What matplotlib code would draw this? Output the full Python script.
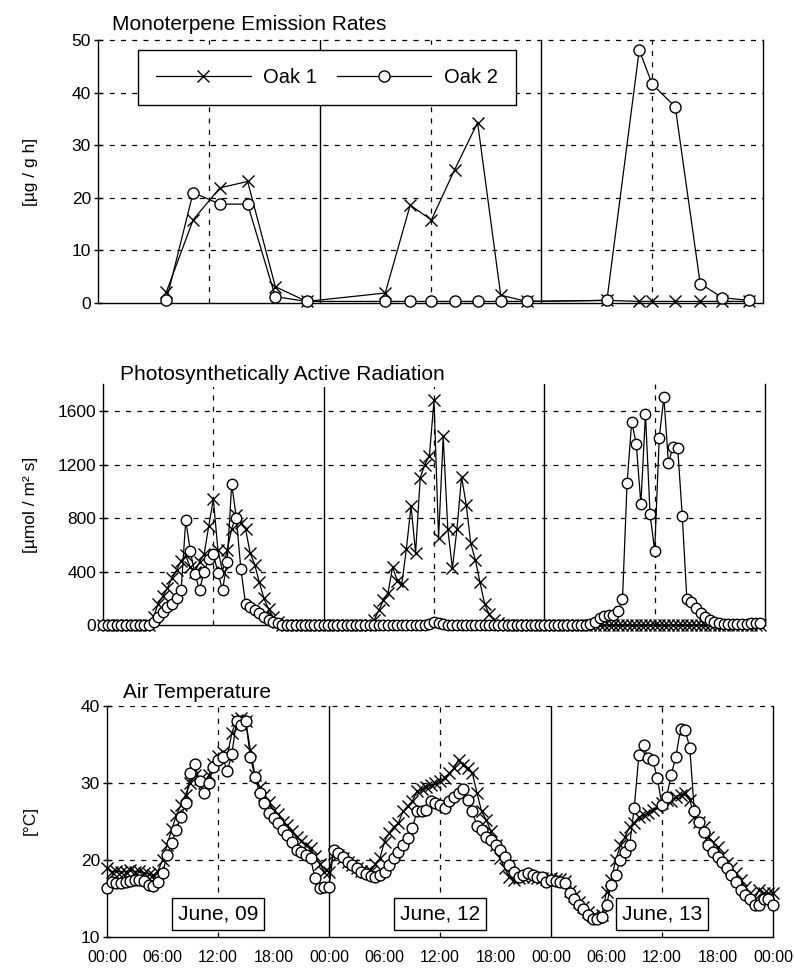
import numpy as np
import matplotlib
matplotlib.use("Agg")
import matplotlib.pyplot as plt

plt.rcParams['font.family'] = ['Liberation Sans', 'DejaVu Sans']

# ---------------- data ----------------
series_names = ["Oak 1", "Oak 2"]
day_labels = ["June, 09", "June, 12", "June, 13"]
time_labels = ["00:00", "06:00", "12:00", "18:00"] * 3 + ["00:00"]

# Monoterpene emission rates [ug / g h]  (hours since start of first shown day)
emis_hours = [7.4, 10.3, 13.2, 16.2, 19.2, 22.6,
              31.1, 33.8, 36.1, 38.6, 41.1, 43.6, 46.4,
              55.1, 58.6, 60.0, 62.5, 65.2, 67.6, 70.5]
emis_oak1 = [2.1, 15.8, 21.9, 23.1, 3.1, 0.3,
             1.9, 18.6, 15.8, 25.3, 34.3, 1.5, 0.3,
             0.5, 0.3, 0.3, 0.3, 0.3, 0.3, 0.3]
emis_oak2 = [0.5, 21.0, 18.8, 18.8, 1.2, 0.3,
             0.3, 0.3, 0.3, 0.3, 0.3, 0.3, 0.3,
             0.5, 48.1, 41.6, 37.3, 3.7, 1.0, 0.5]

# PAR [umol / m2 s], half-hourly, one list per day
par_oak1_d1 = [0]*11 + [60, 160, 215, 275, 350, 410, 480, 520, 430, 400, 470, 530, 740, 940,
                        560, 400, 560, 720, 820, 760, 720, 540, 450, 320, 200, 120, 60, 25] + [0]*9
par_oak1_d2 = [0]*11 + [40, 110, 185, 240, 435, 330, 310, 570, 890, 540, 1100, 1200, 1265, 1680,
                        650, 1410, 720, 425, 720, 1110, 900, 610, 485, 320, 160, 80, 40, 15] + [0]*9
par_oak1_d3 = [0]*48
par_oak2_d1 = [0]*11 + [25, 62, 100, 137, 160, 200, 262, 785, 550, 380, 262, 400, 490, 530,
                        390, 262, 470, 1055, 800, 415, 160, 137, 112, 87, 62, 40, 25, 12] + [0]*9
par_oak2_d2 = [0]*23 + [10, 20, 15, 10] + [0]*21
par_oak2_d3 = [0]*10 + [10, 25, 50, 67, 75, 75, 105, 194, 1060, 1518, 1354, 905, 1578, 828, 556,
                        1401, 1703, 1209, 1334, 1326, 818, 194, 175, 125, 87, 57, 37, 25, 15,
                        10, 10, 10, 8, 8, 10, 12, 15, 18]

# Air temperature [deg C], half-hourly, one list per day
temp_oak1_d1 = [19.0, 18.5, 18.6, 18.4, 18.5, 18.7, 18.5, 18.6, 18.3, 18.2, 18.0, 18.5,
                20.0, 22.0, 24.0, 25.8, 27.2, 28.5, 30.0, 31.0, 30.5, 30.0,
                31.0, 32.5, 33.5, 34.0, 33.5, 36.5, 38.2, 38.5, 38.0, 34.3,
                31.0, 29.5, 28.5, 27.5, 26.5, 26.0, 25.0, 24.5, 23.8, 23.0,
                22.5, 22.0, 21.5, 20.5, 19.5, 18.5]
temp_oak1_d2 = [18.5, 20.8, 20.6, 20.2, 19.8, 19.4, 19.0, 18.6, 18.4, 18.6,
                19.5, 20.2, 22.4, 23.5, 24.3, 24.8, 26.3, 27.0, 27.6, 28.9,
                29.2, 29.5, 29.7, 29.95, 30.2, 30.6, 31.3, 31.9, 33.0, 32.4,
                31.9, 31.25, 28.7, 26.3, 25.2, 23.8, 22.0, 20.2, 18.9, 17.8,
                17.4, 17.6, 17.8, 17.9, 17.8, 17.7, 17.6, 17.5]
temp_oak1_d3 = [17.6, 17.5, 17.5, 17.3, 16.0, 15.3, 14.5, 13.9, 13.2, 12.7,
                12.6, 12.8, 15.9, 17.4, 20.0, 21.9, 23.0, 24.3, 24.8, 25.6,
                25.8, 26.1, 26.5, 26.9, 27.4, 27.8, 27.6, 28.2, 28.5, 28.7,
                27.8, 25.6, 25.0, 24.3, 23.0, 22.4, 21.7, 20.6, 19.6, 19.0,
                18.3, 17.4, 16.5, 15.7, 15.0, 16.1, 15.7, 15.7, 15.7]
temp_oak2_d1 = [16.3, 17.2, 17.0, 17.0, 17.2, 17.3, 17.4, 17.4, 17.3, 16.8, 16.6, 17.2,
                18.3, 20.6, 22.2, 23.9, 25.6, 27.4, 31.3, 32.5, 30.2, 28.7,
                30.0, 32.1, 33.0, 33.4, 31.5, 33.8, 38.0, 37.5, 38.0, 33.4,
                30.8, 28.7, 27.4, 26.1, 25.4, 24.8, 23.9, 23.2, 22.4, 21.3,
                21.1, 20.6, 20.2, 17.6, 16.3, 16.5]
temp_oak2_d2 = [16.5, 21.3, 20.9, 20.4, 19.8, 19.4, 18.9, 18.5, 18.2, 17.9,
                17.8, 18.05, 18.5, 19.35, 20.2, 21.1, 21.9, 22.8, 24.1, 26.3,
                26.4, 26.5, 27.6, 27.4, 27.1, 26.7, 27.6, 28.2, 28.7, 29.2,
                27.8, 26.3, 24.4, 23.9, 23.0, 22.6, 21.9, 21.3, 20.4, 19.35,
                18.5, 17.8, 18.05, 18.3, 18.05, 17.8, 17.8, 17.2]
temp_oak2_d3 = [17.4, 17.3, 17.2, 17.0, 15.7, 15.0, 14.2, 13.6, 12.9, 12.4,
                12.4, 12.6, 14.2, 16.75, 18.05, 20.0, 21.0, 21.9, 26.8, 33.6,
                34.9, 33.2, 33.0, 30.6, 27.1, 28.2, 31.1, 33.4, 37.0, 36.9,
                34.6, 26.3, 25.0, 23.7, 21.9, 21.1, 20.4, 19.8, 18.9, 18.05,
                17.2, 16.1, 15.5, 15.0, 14.2, 14.2, 15.0, 15.0, 14.2]


def join_days(days, step=0.5):
    t = np.concatenate([24 * d + step * np.arange(len(v)) for d, v in enumerate(days)])
    y = np.concatenate([np.asarray(v, float) for v in days])
    return t, y


par_t1, par_y1 = join_days([par_oak1_d1, par_oak1_d2, par_oak1_d3])
par_t2, par_y2 = join_days([par_oak2_d1, par_oak2_d2, par_oak2_d3])
tmp_t1, tmp_y1 = join_days([temp_oak1_d1, temp_oak1_d2, temp_oak1_d3])
tmp_t2, tmp_y2 = join_days([temp_oak2_d1, temp_oak2_d2, temp_oak2_d3])

# ---------------- figure ----------------
W, H = 794, 969
fig = plt.figure(figsize=(W / 100, H / 100), dpi=100)


def px_axes(left, right, top, bottom):
    return fig.add_axes([left / W, 1 - bottom / H, (right - left) / W, (bottom - top) / H])


DASH = (0, (4, 5))


def style(ax, yticks, ylim, grid_vals):
    ax.set_xlim(0, 72)
    ax.set_ylim(*ylim)
    ax.spines['top'].set_visible(False)
    for s in ('left', 'bottom', 'right'):
        ax.spines[s].set_linewidth(1.0)
        ax.spines[s].set_color('black')
    ax.set_yticks(yticks)
    ax.tick_params(axis='y', direction='inout', length=6, width=1, labelsize=12.5, pad=2)
    ax.set_xticks(np.arange(0, 73, 6))
    ax.tick_params(axis='x', length=0)
    ax.set_xticklabels([])
    for y in grid_vals:
        ax.axhline(y, color='black', lw=0.9, ls=DASH, zorder=1, clip_on=False)
    for d in range(3):
        ax.axvline(24 * d + 12, color='black', lw=0.9, ls=DASH, zorder=1)
        if d > 0:
            ax.axvline(24 * d, color='black', lw=1.0, zorder=1)


x_kw = dict(color='black', lw=0.9, marker='x', mec='black', mew=1.0, zorder=3, clip_on=False)
o_kw = dict(color='black', lw=0.9, marker='o', mfc='white', mec='black', mew=1.0, zorder=4,
            clip_on=False)

# --- top: emission rates
ax1 = px_axes(98, 763, 40, 303)
style(ax1, [0, 10, 20, 30, 40, 50], (0, 50), [10, 20, 30, 40, 50])
l1, = ax1.plot(emis_hours, emis_oak1, ms=9, label=series_names[0], **x_kw)
l2, = ax1.plot(emis_hours, emis_oak2, ms=8, label=series_names[1], **o_kw)
leg = ax1.legend(handles=[l1, l2], ncol=2, loc='upper left', bbox_to_anchor=(0.060, 0.962),
                 borderaxespad=0, fontsize=14.5, frameon=True, fancybox=False,
                 edgecolor='black', framealpha=1, handlelength=4.7, handletextpad=0.6,
                 columnspacing=1.0, borderpad=0.9)
leg.get_frame().set_linewidth(1.0)
leg.set_zorder(10)

# --- middle: PAR
ax2 = px_axes(103, 765, 384.25, 625)
style(ax2, [0, 400, 800, 1200, 1600], (0, 1800), [400, 800, 1200, 1600])
ax2.plot(par_t1, par_y1, ms=8.5, **x_kw)
ax2.plot(par_t2, par_y2, ms=7.5, **o_kw)

# --- bottom: air temperature
ax3 = px_axes(107, 773, 706, 937)
style(ax3, [10, 20, 30, 40], (10, 40), [20, 30, 40])
ax3.plot(tmp_t1, tmp_y1, ms=8.5, **x_kw)
ax3.plot(tmp_t2, tmp_y2, ms=7.8, **o_kw)
ax3.set_xticklabels(time_labels, fontsize=11.5)
ax3.tick_params(axis='x', pad=9)
for d, lab in enumerate(day_labels):
    ax3.text(24 * d + 12, 13.0, lab, ha='center', va='center', fontsize=15, zorder=10,
             bbox=dict(boxstyle='square,pad=0.3', fc='white', ec='black', lw=1.0))

# --- titles and unit labels
title_kw = dict(fontsize=15, ha='left', va='center',
                bbox=dict(boxstyle='square,pad=0.15', fc='white', ec='none'))
fig.text(112 / W, 1 - 24 / H, "Monoterpene Emission Rates", **title_kw)
fig.text(120 / W, 1 - 374 / H, "Photosynthetically Active Radiation", **title_kw)
fig.text(123 / W, 1 - 693 / H, "Air Temperature", **title_kw)

ylab_kw = dict(fontsize=12.5, rotation=90, ha='center', va='center')
fig.text(30 / W, 1 - 172 / H, "[µg / g h]", **ylab_kw)
fig.text(30 / W, 1 - 505 / H, "[µmol / m² s]", **ylab_kw)
fig.text(30 / W, 1 - 820 / H, "[°C]", **ylab_kw)

fig.savefig("out.png", dpi=100, facecolor='white')
